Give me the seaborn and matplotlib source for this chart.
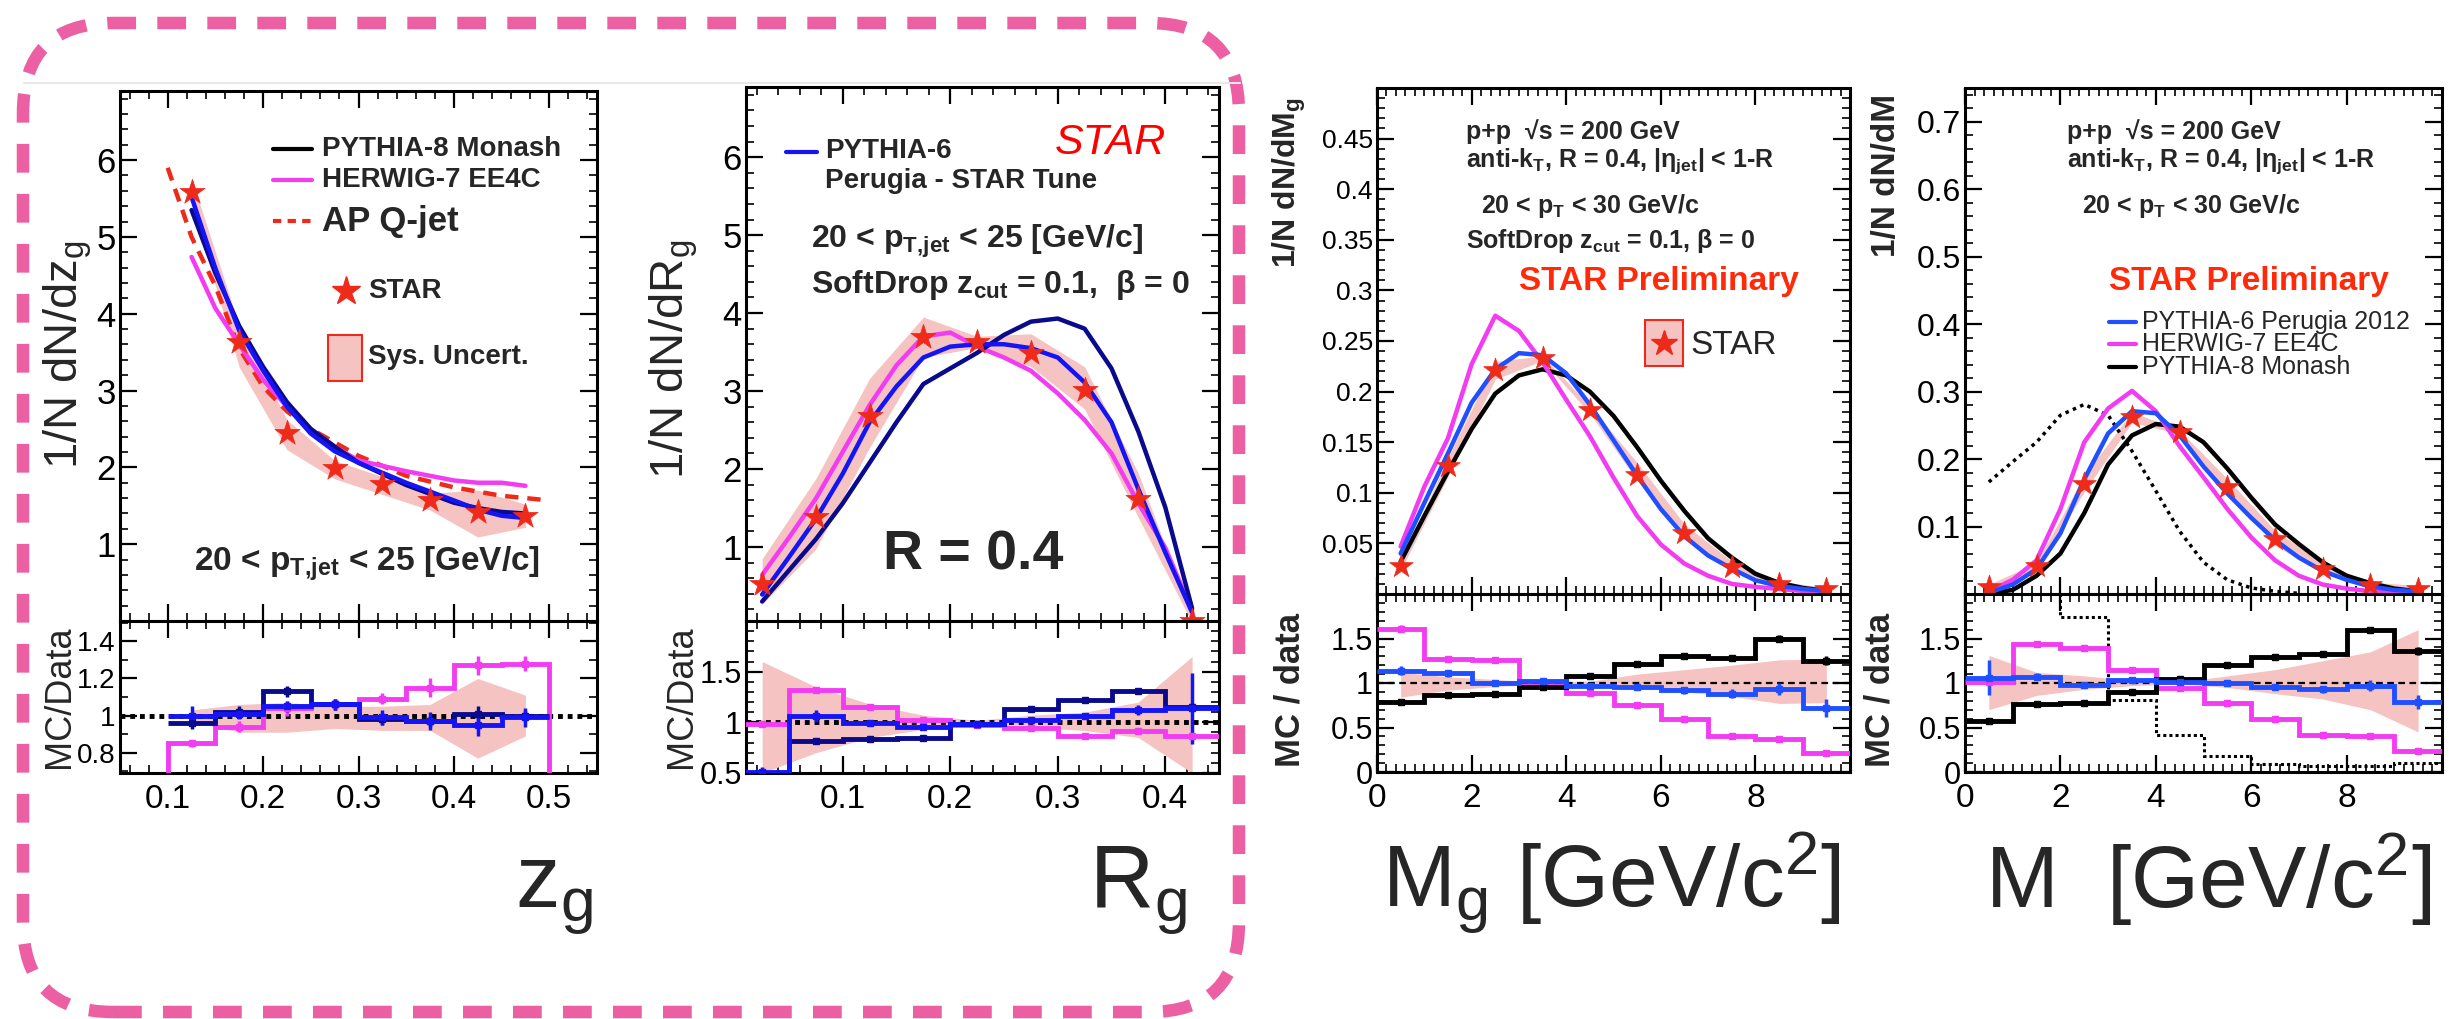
import numpy as np
import seaborn as sns
import matplotlib.pyplot as plt
import matplotlib.ticker as mtick
from matplotlib.patches import FancyBboxPatch, Rectangle
from matplotlib.lines import Line2D
from matplotlib.transforms import IdentityTransform
from matplotlib import font_manager

# ---------------- data ----------------
# z_g panel
zg_x = [0.125, 0.175, 0.225, 0.275, 0.325, 0.375, 0.425, 0.475]
zg_star = [5.59, 3.63, 2.45, 1.99, 1.79, 1.57, 1.42, 1.37]
zg_sys_lo = [0.03, 0.09, 0.09, 0.07, 0.08, 0.08, 0.23, 0.11]
zg_sys_hi = [0.03, 0.06, 0.07, 0.05, 0.05, 0.06, 0.20, 0.11]
zg_cx = [0.125, 0.15, 0.175, 0.2, 0.225, 0.25, 0.275, 0.3, 0.35, 0.4, 0.425, 0.45, 0.475]
zg_py6 = [5.52, 4.59, 3.78, 3.26, 2.79, 2.44, 2.21, 2.06, 1.80, 1.57, 1.45, 1.37, 1.34]
zg_py8 = [5.35, 4.53, 3.84, 3.31, 2.85, 2.50, 2.27, 2.06, 1.77, 1.54, 1.47, 1.42, 1.40]
zg_hw7 = [4.74, 4.07, 3.60, 3.14, 2.79, 2.50, 2.27, 2.09, 1.95, 1.83, 1.80, 1.80, 1.76]
zg_apx = [0.1, 0.125, 0.15, 0.175, 0.2, 0.225, 0.25, 0.3, 0.35, 0.4, 0.45, 0.5]
zg_apq = [5.90, 5.00, 4.36, 3.55, 3.05, 2.73, 2.50, 2.15, 1.89, 1.74, 1.63, 1.57]
zg_edges = [0.1, 0.15, 0.2, 0.25, 0.3, 0.35, 0.4, 0.45, 0.5]
zg_r_hw7 = [0.85, 0.94, 1.04, 1.06, 1.09, 1.15, 1.27, 1.28]
zg_r_py8 = [0.96, 1.02, 1.13, 1.06, 0.98, 0.97, 1.01, 1.00]
zg_r_py6 = [1.00, 1.01, 1.05, 1.06, 0.99, 0.97, 0.95, 0.99]
zg_e_hw7 = [0.02, 0.03, 0.04, 0.03, 0.03, 0.05, 0.05, 0.04]
zg_e_py8 = [0.03, 0.03, 0.03, 0.03, 0.03, 0.03, 0.04, 0.03]
zg_e_py6 = [0.05, 0.03, 0.03, 0.03, 0.04, 0.05, 0.06, 0.05]

# R_g panel
rg_x = [0.025, 0.075, 0.125, 0.175, 0.225, 0.275, 0.325, 0.375, 0.425]
rg_star = [0.53, 1.39, 2.68, 3.69, 3.63, 3.49, 3.01, 1.62, 0.05]
rg_sys_lo = [0.50, 0.30, 0.15, 0.07, 0.02, 0.05, 0.08, 0.15, 0.50]
rg_sys_hi = [0.60, 0.35, 0.18, 0.07, 0.02, 0.07, 0.10, 0.20, 0.65]
rg_cx = [0.025, 0.05, 0.075, 0.1, 0.125, 0.15, 0.175, 0.2, 0.225, 0.25, 0.275,
         0.3, 0.325, 0.35, 0.375, 0.4, 0.425]
rg_py6 = [0.39, 0.87, 1.36, 1.94, 2.60, 3.06, 3.43, 3.57, 3.60, 3.60, 3.55,
          3.43, 3.11, 2.60, 1.74, 0.93, 0.16]
rg_py8 = [0.30, 0.70, 1.10, 1.56, 2.08, 2.60, 3.09, 3.29, 3.49, 3.72, 3.89,
          3.93, 3.80, 3.29, 2.48, 1.51, 0.21]
rg_hw7 = [0.64, 1.12, 1.62, 2.22, 2.82, 3.33, 3.70, 3.75, 3.57, 3.43, 3.26,
          2.97, 2.63, 2.20, 1.56, 0.99, 0.18]
rg_edges = [0.0, 0.05, 0.1, 0.15, 0.2, 0.25, 0.3, 0.35, 0.4, 0.45]
rg_r_hw7 = [0.98, 1.32, 1.15, 1.02, 0.97, 0.94, 0.87, 0.91, 0.87]
rg_r_py6 = [0.51, 1.06, 0.99, 0.95, 0.98, 1.02, 1.06, 1.12, 1.14]
rg_r_py8 = [0.50, 0.82, 0.84, 0.85, 0.98, 1.13, 1.22, 1.31, 1.15]
rg_e_hw7 = [0.02, 0.03, 0.02, 0.02, 0.02, 0.02, 0.02, 0.02, 0.02]
rg_e_py6 = [0.05, 0.06, 0.03, 0.02, 0.02, 0.02, 0.03, 0.05, 0.35]
rg_e_py8 = [0.03, 0.02, 0.02, 0.02, 0.02, 0.02, 0.02, 0.03, 0.04]

# M_g panel
mg_x = [0.5, 1.5, 2.5, 3.5, 4.5, 5.5, 6.5, 7.5, 8.5, 9.5]
mg_star = [0.028, 0.126, 0.221, 0.233, 0.182, 0.118, 0.060, 0.027, 0.010, 0.005]
mg_sys_lo = [0.16, 0.08, 0.04, 0.01, 0.02, 0.05, 0.10, 0.15, 0.23, 0.22]
mg_sys_hi = [0.12, 0.07, 0.04, 0.01, 0.02, 0.10, 0.15, 0.20, 0.26, 0.27]
m_cx = [0.5, 1.0, 1.5, 2.0, 2.5, 3.0, 3.5, 4.0, 4.5, 5.0, 5.5, 6.0, 6.5, 7.0,
        7.5, 8.0, 8.5, 9.0, 9.5]
mg_hw7 = [0.047, 0.106, 0.154, 0.227, 0.275, 0.260, 0.229, 0.192, 0.156, 0.115,
          0.077, 0.049, 0.030, 0.018, 0.010, 0.007, 0.005, 0.003, 0.0025]
mg_py6 = [0.040, 0.090, 0.139, 0.189, 0.222, 0.238, 0.236, 0.218, 0.187, 0.152,
          0.117, 0.084, 0.057, 0.038, 0.025, 0.0135, 0.008, 0.005, 0.003]
mg_py8 = [0.032, 0.077, 0.121, 0.163, 0.198, 0.216, 0.222, 0.216, 0.200, 0.176,
          0.145, 0.112, 0.082, 0.055, 0.036, 0.020, 0.011, 0.006, 0.003]
m_edges = [0, 1, 2, 3, 4, 5, 6, 7, 8, 9, 10]
mg_r_hw7 = [1.61, 1.27, 1.26, 0.97, 0.89, 0.75, 0.59, 0.41, 0.37, 0.21]
mg_r_py6 = [1.14, 1.11, 1.00, 1.02, 0.97, 0.95, 0.92, 0.88, 0.93, 0.72]
mg_r_py8 = [0.79, 0.87, 0.88, 0.96, 1.08, 1.21, 1.30, 1.28, 1.50, 1.25]
mg_e_hw7 = [0.04, 0.02, 0.02, 0.02, 0.02, 0.02, 0.02, 0.02, 0.03, 0.02]
mg_e_py6 = [0.05, 0.04, 0.03, 0.02, 0.02, 0.03, 0.04, 0.05, 0.07, 0.10]
mg_e_py8 = [0.02, 0.02, 0.02, 0.02, 0.02, 0.02, 0.02, 0.03, 0.04, 0.05]

# M panel
m_star = [0.011, 0.041, 0.163, 0.262, 0.240, 0.158, 0.082, 0.037, 0.013, 0.008]
m_sys_lo = [0.30, 0.14, 0.07, 0.03, 0.01, 0.05, 0.12, 0.18, 0.30, 0.55]
m_sys_hi = [0.31, 0.12, 0.08, 0.03, 0.01, 0.08, 0.15, 0.25, 0.35, 0.60]
m_hw7 = [0.004, 0.021, 0.050, 0.126, 0.225, 0.275, 0.301, 0.271, 0.219, 0.173,
         0.126, 0.084, 0.050, 0.027, 0.014, 0.008, 0.004, 0.0025, 0.001]
m_py6 = [0.002, 0.014, 0.037, 0.090, 0.170, 0.238, 0.271, 0.268, 0.235, 0.189,
         0.149, 0.113, 0.080, 0.054, 0.034, 0.021, 0.011, 0.006, 0.004]
m_py8 = [0.001, 0.006, 0.027, 0.060, 0.120, 0.192, 0.235, 0.252, 0.248, 0.225,
         0.186, 0.143, 0.103, 0.074, 0.047, 0.027, 0.016, 0.008, 0.004]
m_dot_x = [0.5, 1.0, 1.5, 2.0, 2.5, 3.0, 3.5, 4.0, 4.5, 5.0, 5.5, 6.0, 6.5, 7.0]
m_dot = [0.166, 0.196, 0.225, 0.265, 0.281, 0.265, 0.212, 0.153, 0.093, 0.047,
         0.021, 0.009, 0.004, 0.001]
m_r_hw7 = [1.01, 1.44, 1.39, 1.15, 0.94, 0.77, 0.60, 0.42, 0.40, 0.24]
m_r_py6 = [1.06, 1.07, 0.98, 1.03, 1.01, 1.00, 0.96, 0.93, 0.97, 0.79]
m_r_py8 = [0.57, 0.76, 0.78, 0.90, 1.05, 1.20, 1.29, 1.33, 1.60, 1.36]
m_r_dot = [3.0, 3.0, 1.74, 0.81, 0.42, 0.18, 0.09, 0.07, 0.07, 0.10]
m_e_hw7 = [0.02, 0.03, 0.02, 0.02, 0.02, 0.02, 0.02, 0.02, 0.02, 0.02]
m_e_py6 = [0.20, 0.04, 0.03, 0.02, 0.02, 0.02, 0.03, 0.04, 0.06, 0.08]
m_e_py8 = [0.02, 0.02, 0.02, 0.02, 0.02, 0.02, 0.02, 0.02, 0.03, 0.04]

# ---------------- style ----------------
NAVY = '#0a0a8c'
BLUE6 = '#1414f5'
BLUE = '#1f4fff'
MAG = '#f23cf2'
RED = '#ee2a1a'
PINK = '#f6c3c3'
BOXPINK = '#ec5fa2'

sns.set_theme(style='ticks')
installed = {f.name for f in font_manager.fontManager.ttflist}
NARROW = 'Liberation Sans Narrow' if 'Liberation Sans Narrow' in installed else 'Liberation Sans'
REG = ['Liberation Sans', 'DejaVu Sans']
plt.rcParams['font.family'] = [NARROW, 'Liberation Sans', 'DejaVu Sans']
plt.rcParams['mathtext.default'] = 'regular'
plt.rcParams['axes.edgecolor'] = 'black'

W, H = 2459, 1019
fig = plt.figure(figsize=(W / 100, H / 100), dpi=100)


def box(x0, x1, y0, y1):
    return [x0 / W, 1 - y1 / H, (x1 - x0) / W, (y1 - y0) / H]


def ftext(px, py, s, **kw):
    kw.setdefault('va', 'center')
    return fig.text(px / W, 1 - py / H, s, **kw)


def fline(x0, x1, py, **kw):
    fig.add_artist(Line2D([x0 / W, x1 / W], [1 - py / H] * 2, transform=fig.transFigure, **kw))


def fmark(px, py, **kw):
    fig.add_artist(Line2D([px / W], [1 - py / H], transform=fig.transFigure, **kw))


fmt = mtick.FuncFormatter(lambda v, p: f'{v:g}')


def style(ax, xlim, ylim, xticks, xmin, yticks, ymin, xlabels, ysize=23):
    ax.set_xlim(*xlim)
    ax.set_ylim(*ylim)
    ax.xaxis.set_major_locator(mtick.FixedLocator(xticks))
    ax.xaxis.set_minor_locator(mtick.MultipleLocator(xmin))
    ax.yaxis.set_major_locator(mtick.FixedLocator(yticks))
    ax.yaxis.set_minor_locator(mtick.MultipleLocator(ymin))
    ax.xaxis.set_major_formatter(fmt)
    ax.yaxis.set_major_formatter(fmt)
    ax.tick_params(which='both', direction='in', top=True, right=True, colors='black')
    ax.tick_params(which='major', length=12, width=1.6, labelsize=ysize, pad=3)
    ax.tick_params(which='minor', length=6, width=1.2)
    ax.tick_params(axis='x', labelbottom=xlabels, labelsize=24, pad=8)
    ax.set_xlabel('')
    ax.set_ylabel('')
    for s in ax.spines.values():
        s.set_linewidth(2.2)


def curve(ax, x, y, color, lw=3.2, ls='-'):
    sns.lineplot(x=x, y=y, ax=ax, color=color, lw=lw, linestyle=ls,
                 estimator=None, legend=False, zorder=3)


def stars(ax, x, y, s=360):
    sns.scatterplot(x=x, y=y, ax=ax, marker='*', s=s, color=RED, edgecolor=RED,
                    linewidth=0.5, zorder=6, legend=False)


def band(ax, x, y, lo, hi):
    y = np.asarray(y)
    ax.fill_between(x, y * (1 - np.asarray(lo)), y * (1 + np.asarray(hi)),
                    color=PINK, lw=0, zorder=1)


def ratio_band(ax, x, lo, hi):
    ax.fill_between(x, 1 - np.asarray(lo), 1 + np.asarray(hi), color=PINK, lw=0, zorder=1)


def hist(ax, edges, vals, errs, color, lw=3.5, ls='-', baseline=None, mk='s'):
    ax.stairs(vals, edges, baseline=baseline, color=color, lw=lw, linestyle=ls, zorder=3)
    c = 0.5 * (np.asarray(edges[:-1]) + np.asarray(edges[1:]))
    ax.errorbar(c, vals, yerr=errs, fmt=mk, ms=4, color=color, elinewidth=2.5,
                capsize=0, zorder=4)


ZG_T = [0.1, 0.2, 0.3, 0.4, 0.5]
RG_T = [0.1, 0.2, 0.3, 0.4]
M_T = [0, 2, 4, 6, 8]

# ---------------- panel 1 : z_g ----------------
a1 = fig.add_axes(box(120, 597, 91, 621))
r1 = fig.add_axes(box(120, 597, 621, 773))
band(a1, zg_x, zg_star, zg_sys_lo, zg_sys_hi)
curve(a1, zg_apx, zg_apq, RED, lw=3.2, ls=(0, (3, 2)))
curve(a1, zg_cx, zg_hw7, MAG)
curve(a1, zg_cx, zg_py8, NAVY)
curve(a1, zg_cx, zg_py6, BLUE6)
stars(a1, zg_x, zg_star)
style(a1, (0.05, 0.55), (0, 6.9), ZG_T, 0.02, [1, 2, 3, 4, 5, 6], 0.2, False, 25)

ratio_band(r1, zg_x, zg_sys_lo, zg_sys_hi)
r1.axhline(1, color='black', lw=3.5, ls=(0, (1, 1)), zorder=2)
hist(r1, zg_edges, zg_r_hw7, zg_e_hw7, MAG, baseline=0)
hist(r1, zg_edges, zg_r_py8, zg_e_py8, NAVY)
hist(r1, zg_edges, zg_r_py6, zg_e_py6, BLUE6)
style(r1, (0.05, 0.55), (0.69, 1.51), ZG_T, 0.02, [0.8, 1, 1.2, 1.4], 0.1, True, 20)

fline(273, 312, 149, color='black', lw=3)
fline(273, 312, 180, color=MAG, lw=3)
fline(273, 312, 221, color=RED, lw=3, ls=(0, (2, 1.5)))
bold = dict(fontweight='bold', fontsize=20)
ftext(322, 149, 'PYTHIA-8 Monash', **bold)
ftext(322, 180, 'HERWIG-7 EE4C', **bold)
ftext(322, 221, 'AP Q-jet', fontweight='bold', fontsize=25)
fmark(346, 291, marker='*', ms=21, color=RED, mec=RED)
ftext(368, 291, 'STAR', **bold)
fig.add_artist(Rectangle((328 / W, 1 - 381 / H), 34 / W, 46 / H, transform=fig.transFigure,
                         facecolor=PINK, edgecolor=RED, lw=1.5))
ftext(368, 357, 'Sys. Uncert.', **bold)
ftext(194, 564, '20 < p$_{T{,}jet}$ < 25 [GeV/c]', fontweight='bold', fontsize=24)

ftext(68, 355, '1/N dN/dz$_g$', rotation=90, ha='center', fontsize=34)
ftext(60, 697, 'MC/Data', rotation=90, ha='center', fontsize=26)
ftext(554, 907, 'z$_g$', ha='center', va='baseline', fontsize=64, family=REG)

# ---------------- panel 2 : R_g ----------------
a2 = fig.add_axes(box(746, 1219, 87, 621))
r2 = fig.add_axes(box(746, 1219, 621, 773))
band(a2, rg_x, rg_star, rg_sys_lo, rg_sys_hi)
curve(a2, rg_cx, rg_hw7, MAG)
curve(a2, rg_cx, rg_py8, NAVY)
curve(a2, rg_cx, rg_py6, BLUE6)
stars(a2, rg_x, rg_star)
style(a2, (0.01, 0.45), (0.05, 6.9), RG_T, 0.02, [1, 2, 3, 4, 5, 6], 0.2, False, 25)

ratio_band(r2, rg_x, rg_sys_lo, rg_sys_hi)
r2.axhline(1, color='black', lw=3.5, ls=(0, (1, 1)), zorder=2)
hist(r2, rg_edges, rg_r_hw7, rg_e_hw7, MAG)
hist(r2, rg_edges, rg_r_py8, rg_e_py8, NAVY)
hist(r2, rg_edges, rg_r_py6, rg_e_py6, BLUE6)
style(r2, (0.01, 0.45), (0.5, 2.0), RG_T, 0.02, [0.5, 1, 1.5], 0.1, True, 22)

fline(786, 817, 152, color=BLUE6, lw=3)
ftext(825, 151, 'PYTHIA-6', **bold)
ftext(825, 181, 'Perugia - STAR Tune', **bold)
ftext(1055, 143, 'STAR', color='#ff0000', fontstyle='italic', fontsize=31, family=REG)
ftext(811, 241, '20 < p$_{T{,}jet}$ < 25 [GeV/c]', fontweight='bold', fontsize=23)
ftext(811, 285, 'SoftDrop z$_{cut}$ = 0.1,  β = 0', fontweight='bold', fontsize=23)
ftext(973, 555, 'R = 0.4', ha='center', fontweight='bold', fontsize=40, family=REG)

ftext(674, 359, '1/N dN/dR$_g$', rotation=90, ha='center', fontsize=34)
ftext(682, 697, 'MC/Data', rotation=90, ha='center', fontsize=26)
ftext(1138, 907, 'R$_g$', ha='center', va='baseline', fontsize=64, family=REG)

# ---------------- panel 3 : M_g ----------------
a3 = fig.add_axes(box(1377, 1850, 88, 594))
r3 = fig.add_axes(box(1377, 1850, 594, 772))
band(a3, mg_x, mg_star, mg_sys_lo, mg_sys_hi)
curve(a3, m_cx, mg_py8, 'black')
curve(a3, m_cx, mg_hw7, MAG)
curve(a3, m_cx, mg_py6, BLUE)
stars(a3, mg_x, mg_star, s=320)
style(a3, (0, 10), (0, 0.5), M_T, 0.2,
      [0.05, 0.1, 0.15, 0.2, 0.25, 0.3, 0.35, 0.4, 0.45], 0.01, False, 19)

ratio_band(r3, mg_x, mg_sys_lo, mg_sys_hi)
r3.axhline(1, color='black', lw=1.6, ls=(0, (3, 2)), zorder=2)
hist(r3, m_edges, mg_r_hw7, mg_e_hw7, MAG)
hist(r3, m_edges, mg_r_py8, mg_e_py8, 'black')
hist(r3, m_edges, mg_r_py6, mg_e_py6, BLUE)
style(r3, (0, 10), (0, 2.0), M_T, 0.2, [0, 0.5, 1, 1.5], 0.1, True, 22)

sm = dict(fontweight='bold', fontsize=18)
ftext(1466, 132, 'p+p  √s = 200 GeV', **sm)
ftext(1466, 161, 'anti-k$_T$, R = 0.4, |η$_{jet}$| < 1-R', **sm)
ftext(1481, 206, '20 < p$_T$ < 30 GeV/c', **sm)
ftext(1466, 241, 'SoftDrop z$_{cut}$ = 0.1, β = 0', **sm)
ftext(1519, 282, 'STAR Preliminary', color='#ff2a0a', fontweight='bold', fontsize=24, family=REG)
fig.add_artist(Rectangle((1645 / W, 1 - 366 / H), 38 / W, 46 / H, transform=fig.transFigure,
                         facecolor=PINK, edgecolor=RED, lw=1.5))
fmark(1664, 343, marker='*', ms=19, color=RED, mec=RED)
ftext(1690, 345, 'STAR', fontsize=24, family=REG)

ftext(1289, 183, '1/N dN/dM$_g$', rotation=90, ha='center', fontweight='bold', fontsize=23)
ftext(1290, 690, 'MC / data', rotation=90, ha='center', fontweight='bold', fontsize=25)
ftext(1611, 908, 'M$_g$ [GeV/c$^2$]', ha='center', va='baseline', fontsize=63, family=REG)

# ---------------- panel 4 : M ----------------
a4 = fig.add_axes(box(1965, 2442, 88, 594))
r4 = fig.add_axes(box(1965, 2442, 594, 772))
band(a4, mg_x, m_star, m_sys_lo, m_sys_hi)
curve(a4, m_dot_x, m_dot, 'black', lw=2.5, ls=(0, (1, 1.3)))
curve(a4, m_cx, m_py8, 'black')
curve(a4, m_cx, m_hw7, MAG)
curve(a4, m_cx, m_py6, BLUE)
stars(a4, mg_x, m_star, s=320)
style(a4, (0, 10), (0, 0.75), M_T, 0.2, [0.1, 0.2, 0.3, 0.4, 0.5, 0.6, 0.7], 0.02, False, 23)

ratio_band(r4, mg_x, m_sys_lo, m_sys_hi)
r4.axhline(1, color='black', lw=1.6, ls=(0, (3, 2)), zorder=2)
r4.stairs(m_r_dot, m_edges, baseline=None, color='black', lw=2.2, linestyle=(0, (1, 1)), zorder=3)
hist(r4, m_edges, m_r_hw7, m_e_hw7, MAG)
hist(r4, m_edges, m_r_py8, m_e_py8, 'black')
hist(r4, m_edges, m_r_py6, m_e_py6, BLUE)
style(r4, (0, 10), (0, 2.0), M_T, 0.2, [0, 0.5, 1, 1.5], 0.1, True, 22)

ftext(2067, 132, 'p+p  √s = 200 GeV', **sm)
ftext(2067, 161, 'anti-k$_T$, R = 0.4, |η$_{jet}$| < 1-R', **sm)
ftext(2082, 206, '20 < p$_T$ < 30 GeV/c', **sm)
ftext(2109, 282, 'STAR Preliminary', color='#ff2a0a', fontweight='bold', fontsize=24, family=REG)
fline(2109, 2136, 322, color=BLUE, lw=3)
fline(2109, 2136, 344, color=MAG, lw=3)
fline(2109, 2136, 367, color='black', lw=3)
ftext(2142, 322, 'PYTHIA-6 Perugia 2012', fontsize=18, family=REG)
ftext(2142, 344, 'HERWIG-7 EE4C', fontsize=18, family=REG)
ftext(2142, 367, 'PYTHIA-8 Monash', fontsize=18, family=REG)

ftext(1887, 175, '1/N dN/dM', rotation=90, ha='center', fontweight='bold', fontsize=24)
ftext(1880, 690, 'MC / data', rotation=90, ha='center', fontweight='bold', fontsize=25)
ftext(2208, 908, 'M  [GeV/c$^2$]', ha='center', va='baseline', fontsize=63, family=REG)

# ---------------- decoration: faint rule and dashed rounded box ----------------
fline(24, 1240, 83, color='#e8e8e8', lw=1.5)
fig.add_artist(FancyBboxPatch((23, H - 1012), 1216, 989,
                              boxstyle='round,pad=0,rounding_size=90',
                              transform=IdentityTransform(), fill=False,
                              edgecolor=BOXPINK, lw=9, linestyle=(0, (2.3, 1.7))))

fig.savefig('out.png', dpi=100)
